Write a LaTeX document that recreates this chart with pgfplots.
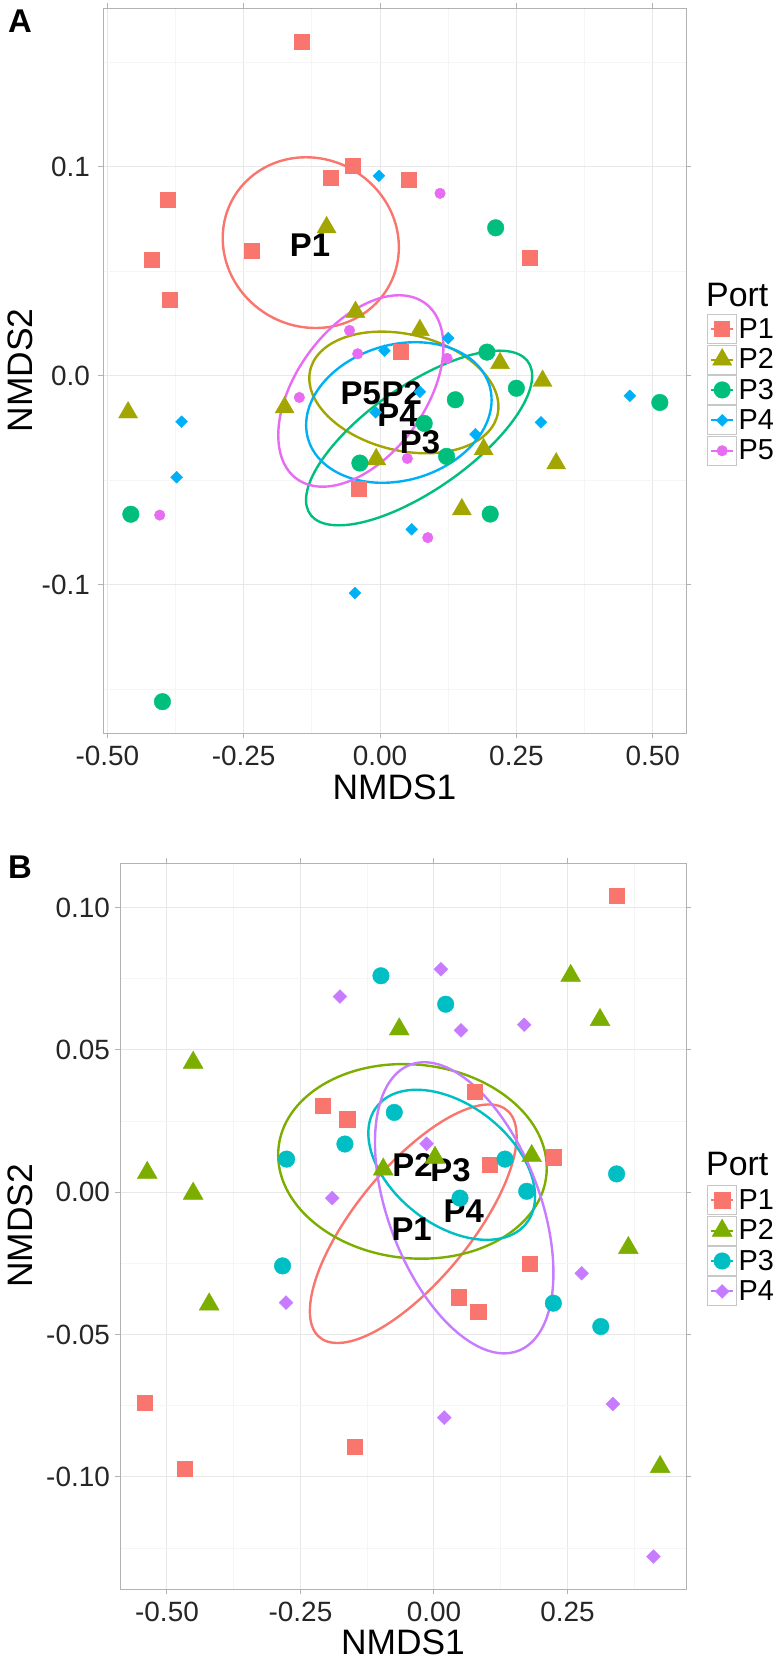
\documentclass[border=0pt]{standalone}
\usepackage{fontspec}
\setmainfont{Liberation Sans}
\usepackage{pgfplots}
\pgfplotsset{compat=1.18}

\definecolor{aP1}{HTML}{F8766D}
\definecolor{aP2}{HTML}{A3A500}
\definecolor{aP3}{HTML}{00BF7D}
\definecolor{aP4}{HTML}{00B0F6}
\definecolor{aP5}{HTML}{E76BF3}
\definecolor{bP2}{HTML}{7CAE00}
\definecolor{bP3}{HTML}{00BFC4}
\definecolor{bP4}{HTML}{C77CFF}

% ellipse: colour, cx, cy, A, B, C  -> X = cx + A cos t ; Y = cy + B cos t + C sin t
\newcommand{\ellip}[6]{%
  \pgfplotsextra{%
    \begin{pgfscope}%
    \pgfsetlinewidth{2.4bp}%
    \pgfsetstrokecolor{#1}%
    \pgfpathellipse{\pgfplotspointaxisxy{#2}{#3}}{\pgfplotspointaxisdirectionxy{#4}{#5}}{\pgfplotspointaxisdirectionxy{0}{#6}}%
    \pgfusepath{stroke}%
    \end{pgfscope}%
  }%
}

\tikzset{lab/.style={font=\bfseries\fontsize{33}{34}\selectfont, anchor=center, inner sep=0bp}}

\pgfplotsset{
  nmds/.style={
    scale only axis,
    clip=false,
    axis line style={draw=black!30, line width=1bp},
    tick align=outside,
    major tick length=5bp,
    minor tick length=0bp,
    tick style={draw=black!30, line width=1bp},
    grid=both,
    major grid style={draw=black!9, line width=1bp},
    minor grid style={draw=black!4, line width=0.8bp},
    ticklabel style={font=\fontsize{28}{30}\selectfont, text=black!85},
    xticklabel style={anchor=center, yshift=-18bp},
    yticklabel style={anchor=east, inner sep=0bp},
    label style={font=\fontsize{35.5}{38}\selectfont},
    xlabel={NMDS1}, ylabel={NMDS2},
    legend cell align=left,
    legend style={draw=none, fill=none, inner sep=0bp, row sep=0.4bp, column sep=0bp,
      font=\fontsize{29}{30}\selectfont, nodes={inner sep=1.5bp}},
    legend image code/.code={
      \draw[draw=black!22, fill=white, line width=1bp] (0bp,-14.5bp) rectangle (29bp,14.5bp);
      \draw[##1, mark=none, line width=2bp, solid] (3.5bp,0bp) -- (25.5bp,0bp);
      \draw[##1] plot coordinates {(14.5bp,0bp)};
    },
  }
}

\begin{document}
\begin{tikzpicture}
\useasboundingbox (0,0) rectangle (784bp,-1665bp);

\node[font=\bfseries\fontsize{33}{34}\selectfont, anchor=center, inner sep=0bp] at (20bp,-21.3bp) {A};
\node[font=\bfseries\fontsize{33}{34}\selectfont, anchor=center, inner sep=0bp] at (20bp,-867.5bp) {B};

% ---------------- Panel A ----------------
\begin{axis}[nmds,
  at={(103bp,-733bp)}, anchor=south west, width=583bp, height=725bp,
  xmin=-0.508, xmax=0.561, ymin=-0.171, ymax=0.176,
  xtick={-0.5,-0.25,0,0.25,0.5}, xticklabels={-0.50,-0.25,0.00,0.25,0.50},
  ytick={-0.1,0,0.1}, yticklabels={-0.1,0.0,0.1},
  minor xtick={-0.375,-0.125,0.125,0.375}, minor ytick={-0.15,-0.05,0.05,0.15},
  xlabel style={at={(axis description cs:0.5,0)}, anchor=center, yshift=-54.5bp},
  ylabel style={at={(axis description cs:-0.1424,0.5)}, anchor=center},
  yticklabel style={xshift=-8bp},
  legend style={at={(axis description cs:1.036,0.578)}, anchor=north west},
]
\addplot[only marks, color=aP1, mark=square*, mark size=7.5bp] coordinates {
(-0.144,0.160) (-0.050,0.1005) (-0.090,0.0947) (0.052,0.0936) (-0.390,0.0844)
(-0.235,0.0600) (-0.419,0.0557) (0.275,0.0566) (-0.385,0.0366) (0.0385,0.0115)
(-0.040,-0.0540)};
\addplot[only marks, color=aP2, mark=triangle*, mark size=11bp] coordinates {
(-0.098,0.0710) (-0.045,0.0305) (0.073,0.0218) (0.220,0.0060) (0.298,-0.0025)
(-0.462,-0.0176) (-0.175,-0.0152) (0.190,-0.0352) (0.323,-0.0420) (-0.007,-0.0400)
(0.150,-0.0640)};
\addplot[only marks, color=aP3, mark=*, mark size=8.3bp] coordinates {
(0.212,0.0708) (0.196,0.0113) (0.250,-0.0060) (0.138,-0.0115) (0.513,-0.0128)
(0.081,-0.0228) (0.122,-0.0386) (-0.037,-0.0418) (0.202,-0.0662) (-0.457,-0.0663)
(-0.399,-0.1560)};
\addplot[only marks, color=aP4, mark=square*, mark size=4.2bp, mark options={rotate=45}] coordinates {
(-0.002,0.0957) (0.125,0.0180) (0.008,0.0120) (0.073,-0.0077) (0.458,-0.0096)
(-0.008,-0.0175) (0.295,-0.0223) (-0.364,-0.0220) (0.175,-0.0280) (-0.373,-0.0486)
(0.058,-0.0735) (-0.046,-0.1040)};
\addplot[only marks, color=aP5, mark=*, mark size=5.3bp] coordinates {
(0.110,0.0873) (-0.056,0.0217) (-0.041,0.0105) (0.123,0.0083) (-0.148,-0.0104)
(0.050,-0.0396) (-0.404,-0.0667) (0.0875,-0.0775)};
\legend{P1,P2,P3,P4,P5}

\ellip{aP1}{-0.127}{0.0637}{0.1615}{-0.0022}{0.0408}
\ellip{aP2}{0.0437}{-0.0080}{0.1734}{-0.0068}{0.0283}
\ellip{aP3}{0.0716}{-0.0298}{0.2073}{0.0297}{0.0294}
\ellip{aP4}{0.0345}{-0.0176}{0.1700}{0.0060}{0.0331}
\ellip{aP5}{-0.0352}{-0.0073}{0.1514}{0.0212}{0.0406}

\node[lab] at (axis cs:-0.1284,0.0625) {P1};
\node[lab] at (axis cs:-0.0352,-0.0084) {P5};
\node[lab] at (axis cs:0.0398,-0.0084) {P2};
\node[lab] at (axis cs:0.0321,-0.0188) {P4};
\node[lab] at (axis cs:0.0734,-0.0316) {P3};

\node[font=\fontsize{34}{36}\selectfont, anchor=base west, inner sep=0bp] at (axis description cs:1.0343,0.588) {Port};
\end{axis}

% ---------------- Panel B ----------------
\begin{axis}[nmds,
  at={(120bp,-1589bp)}, anchor=south west, width=566bp, height=726bp,
  xmin=-0.588, xmax=0.472, ymin=-0.1394, ymax=0.1156,
  xtick={-0.5,-0.25,0,0.25}, xticklabels={-0.50,-0.25,0.00,0.25},
  ytick={-0.1,-0.05,0,0.05,0.1}, yticklabels={-0.10,-0.05,0.00,0.05,0.10},
  minor xtick={-0.375,-0.125,0.125,0.375}, minor ytick={-0.125,-0.075,-0.025,0.025,0.075},
  xlabel style={at={(axis description cs:0.5,0)}, anchor=center, yshift=-53bp},
  ylabel style={at={(axis description cs:-0.1767,0.5)}, anchor=center},
  yticklabel style={xshift=-5bp},
  legend style={at={(axis description cs:1.037,0.5565)}, anchor=north west},
]
\addplot[only marks, color=aP1, mark=square*, mark size=7.6bp] coordinates {
(0.342,0.1040) (-0.209,0.0303) (-0.1625,0.0256) (0.0756,0.0354) (0.105,0.0096)
(0.2236,0.0123) (0.180,-0.0252) (0.0469,-0.0369) (0.083,-0.0420) (-0.5416,-0.0739)
(-0.149,-0.0894) (-0.4666,-0.0972)};
\addplot[only marks, color=bP2, mark=triangle*, mark size=11.5bp] coordinates {
(0.256,0.0760) (0.311,0.0605) (-0.065,0.0572) (-0.451,0.0455) (-0.095,0.0080)
(0.002,0.0121) (0.183,0.0127) (-0.537,0.0068) (-0.451,-0.0005) (0.364,-0.0196)
(-0.421,-0.0394) (0.4235,-0.0965)};
\addplot[only marks, color=bP3, mark=*, mark size=8.3bp] coordinates {
(-0.0993,0.0760) (0.0219,0.0660) (-0.0743,0.0280) (-0.1668,0.0169) (-0.276,0.0116)
(0.133,0.0116) (0.342,0.0064) (0.1737,0.0003) (0.0487,-0.0021) (-0.2836,-0.0259)
(0.2236,-0.0390) (0.3124,-0.0472)};
\addplot[only marks, color=bP4, mark=square*, mark size=4.9bp, mark options={rotate=45}] coordinates {
(0.013,0.0783) (-0.176,0.0687) (0.169,0.0588) (0.0506,0.0568) (-0.0137,0.0170)
(-0.1906,-0.0021) (0.2767,-0.0285) (-0.277,-0.0388) (0.335,-0.0744) (0.0193,-0.0792)
(0.411,-0.1280)};
\legend{P1,P2,P3,P4}

\ellip{aP1}{-0.0388}{-0.0111}{0.1936}{0.0307}{0.0285}
\ellip{bP2}{-0.0403}{0.0108}{0.2515}{-0.0023}{0.0341}
\ellip{bP3}{0.0332}{0.0096}{0.1561}{-0.0111}{0.0239}
\ellip{bP4}{0.0566}{-0.0055}{0.1671}{-0.0229}{0.0457}

\node[lab] at (axis cs:-0.0403,0.0096) {P2};
\node[lab] at (axis cs:0.0309,0.0078) {P3};
\node[lab] at (axis cs:0.0559,-0.0068) {P4};
\node[lab] at (axis cs:-0.0418,-0.0130) {P1};

\node[font=\fontsize{34}{36}\selectfont, anchor=base west, inner sep=0bp] at (axis description cs:1.0353,0.5702) {Port};
\end{axis}
\end{tikzpicture}
\end{document}
